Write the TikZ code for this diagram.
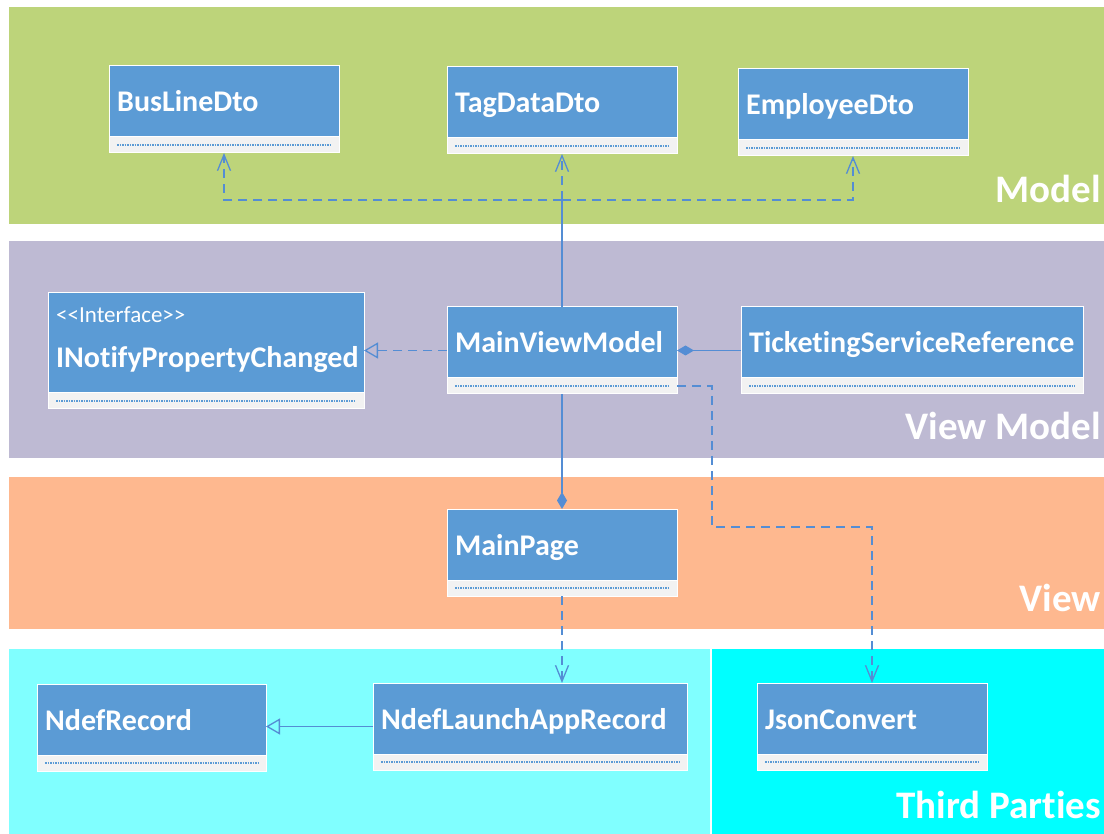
\documentclass[tikz,border=0pt]{standalone}
\usepackage{fontspec}
\setmainfont{Carlito}[Ligatures=NoCommon]
\usetikzlibrary{arrows.meta}

\definecolor{modelgreen}{RGB}{189,212,122}
\definecolor{vmpurple}{RGB}{190,186,211}
\definecolor{vieworange}{RGB}{254,184,143}
\definecolor{libcyan}{RGB}{128,255,255}
\definecolor{tpcyan}{RGB}{0,255,255}
\definecolor{clsblue}{RGB}{91,155,213}
\definecolor{footgrey}{RGB}{242,242,242}
\definecolor{linkblue}{RGB}{84,141,212}

% class box: [header height]{name}{top left}{width}{title}
\newcommand{\umlclass}[5][71]{%
  \node[clsbox, minimum width=#4pt, minimum height=#1pt, anchor=north west] (#2) at (#3) {};
  \node[clsfoot, minimum width=#4pt, anchor=north] (#2-f) at (#2.south) {};
  \draw[dotln] ([xshift=8pt]#2-f.west) -- ([xshift=-8pt]#2-f.east);
  \node[clstitle, anchor=base west] (#2-t) at ([shift={(8pt,25pt)}]#2.south west) {#5};
}

\begin{document}
\begin{tikzpicture}[x=1pt,y=-1pt,
  clsbox/.style={draw=white, line width=1pt, fill=clsblue, inner sep=0pt, outer sep=0pt},
  clsfoot/.style={draw=white, line width=1pt, fill=footgrey, minimum height=16pt, inner sep=0pt, outer sep=0pt},
  dotln/.style={clsblue, line width=1.3pt, dash pattern=on 1.5pt off 1pt},
  clstitle/.style={text=white, font=\bfseries\fontsize{30}{35}\selectfont, inner sep=0pt},
  stereo/.style={text=white, font=\fontsize{23}{27}\selectfont, inner sep=0pt},
  bandlbl/.style={text=white, font=\bfseries\fontsize{39}{46}\selectfont, inner sep=0pt},
  link/.style={linkblue, line width=1.3pt},
  dep/.style={link, dash pattern=on 9pt off 6pt, -{Straight Barb[length=16pt,width=13pt]}},
  real/.style={link, dash pattern=on 9pt off 6pt, -{Triangle[open,length=14pt,width=16pt]}},
  gen/.style={link, -{Triangle[open,length=14pt,width=16pt]}},
  comp/.style={link, -{Diamond[length=17pt,width=10pt]}}]
\useasboundingbox (0,0) rectangle (1104,834);

% layers
\fill[modelgreen] (9,7) rectangle (1104,224);
\fill[vmpurple] (9,241) rectangle (1104,458);
\fill[vieworange] (9,477) rectangle (1104,629);
\fill[libcyan] (9,649) rectangle (710,834);
\fill[tpcyan] (712,649) rectangle (1104,834);

\node[bandlbl, anchor=base east] (lbl-model) at (1101,203) {Model};
\node[bandlbl, anchor=base east] (lbl-vm) at (1101,439) {View Model};
\node[bandlbl, anchor=base east] (lbl-view) at (1101,611) {View};
\node[bandlbl, anchor=base east] (lbl-tp) at (1101,818) {Third Parties};

% classes
\umlclass{bus}{109,66}{230}{BusLineDto}
\umlclass{tag}{447,67}{230}{TagDataDto}
\umlclass{emp}{738,69}{230}{EmployeeDto}
\umlclass[100]{inpc}{48,293}{316}{INotifyPropertyChanged}
\node[stereo, anchor=base west] (inpc-s) at ([shift={(8pt,-30pt)}]inpc.north west) {<\kern0pt<Interface>\kern0pt>};
\umlclass{mvm}{447,307}{230}{MainViewModel}
\umlclass{tsr}{741,307}{342}{TicketingServiceReference}
\umlclass{mp}{447,509}{230}{MainPage}
\umlclass{ndef}{37,684}{229}{NdefRecord}
\umlclass{nlar}{373,683}{314}{NdefLaunchAppRecord}
\umlclass{json}{757,683}{230}{JsonConvert}

% relations
\coordinate (hub) at (562,200);
\draw[link] (mvm.north) -- (hub);
\draw[dep] (hub) -- (tag-f.south);
\draw[dep] (hub) -| (bus-f.south);
\draw[dep] (hub) -| (emp-f.south);

\coordinate (mvm-l) at ([yshift=-8pt]mvm.west);
\draw[real] (mvm-l) -- (mvm-l -| inpc.east);
\draw[comp] (tsr.west |- mvm-l) -- (mvm.east |- mvm-l);
\draw[comp] (mvm-f.south) -- (mp.north);
\draw[dep] (mp-f.south) -- (mp-f.south |- nlar.north);

\coordinate (nlar-l) at ([yshift=-8pt]nlar.west);
\draw[gen] (nlar-l) -- (nlar-l -| ndef.east);

\coordinate (jbend) at (712,527);
\draw[dep] (mvm-f.east) -| (jbend) -| (json.north);
\end{tikzpicture}
\end{document}
